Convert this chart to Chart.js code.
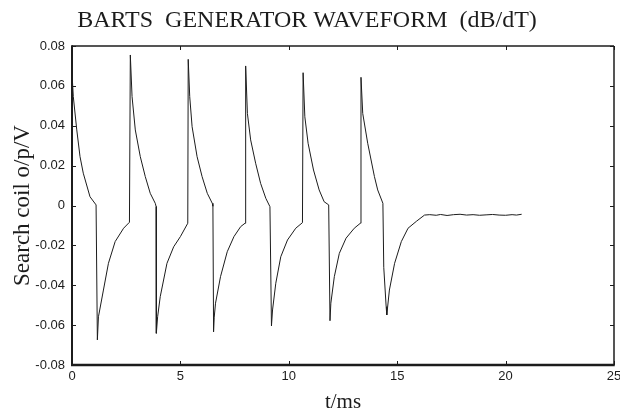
<!DOCTYPE html>
<html>
<head>
<meta charset="utf-8">
<script src="https://cdn.jsdelivr.net/npm/chart.js@4.4.1/dist/chart.umd.min.js"></script>
<style>
  html, body { margin: 0; padding: 0; background: #ffffff; }
  #wrap { width: 620px; height: 413px; }
</style>
</head>
<body>
<div id="wrap"><canvas id="c" width="620" height="413"></canvas></div>
<script>
// ---- data (time in ms, search-coil output in V) ----
const timeMs = [
  0.00, 0.06, 0.22, 0.37, 0.52, 0.83, 1.11, 1.17, 1.22, 1.45, 1.68, 1.99, 2.38, 2.65,
  2.69, 2.77, 2.92, 3.15, 3.38, 3.61, 3.84, 3.88, 3.89, 3.95, 4.07, 4.38, 4.69, 5.00, 5.34,
  5.36, 5.43, 5.54, 5.77, 6.00, 6.24, 6.47, 6.50, 6.53, 6.56, 6.62, 6.85, 7.16, 7.47, 7.78, 7.98,
  8.01, 8.09, 8.24, 8.47, 8.70, 8.94, 9.13, 9.20, 9.25, 9.40, 9.63, 9.94, 10.32, 10.63,
  10.66, 10.74, 10.89, 11.14, 11.40, 11.63, 11.84, 11.90, 11.94, 12.10, 12.33, 12.64, 13.02, 13.30,
  13.33, 13.41, 13.64, 13.95, 14.10, 14.34, 14.38, 14.49, 14.52, 14.64, 14.88, 15.19, 15.50, 15.90,
  16.26, 16.50, 16.80, 17.00, 17.30, 17.60, 17.90, 18.20, 18.50, 18.80, 19.10, 19.40, 19.70,
  20.00, 20.30, 20.50, 20.74
];
const coilVolts = [
  0.0663, 0.0546, 0.0379, 0.0245, 0.0162, 0.0044, 0.0003, -0.0674, -0.0558, -0.0424, -0.0290, -0.0181, -0.0114, -0.0084,
  0.0755, 0.0546, 0.0379, 0.0245, 0.0145, 0.0061, 0.0011, -0.0005, -0.0641, -0.0558, -0.0457, -0.0290, -0.0207, -0.0156, -0.0089,
  0.0733, 0.0546, 0.0395, 0.0245, 0.0145, 0.0061, 0.0011, -0.0004, -0.0634, -0.0560, -0.0490, -0.0357, -0.0232, -0.0156, -0.0106, -0.0089,
  0.0700, 0.0462, 0.0329, 0.0212, 0.0111, 0.0036, -0.0006, -0.0604, -0.0524, -0.0390, -0.0257, -0.0173, -0.0114, -0.0086,
  0.0666, 0.0445, 0.0312, 0.0178, 0.0078, 0.0019, 0.0003, -0.0578, -0.0490, -0.0357, -0.0240, -0.0164, -0.0114, -0.0089,
  0.0643, 0.0462, 0.0312, 0.0145, 0.0078, 0.0011, -0.0310, -0.0507, -0.0549, -0.0424, -0.0290, -0.0181, -0.0114, -0.0078,
  -0.0048, -0.0046, -0.0049, -0.0045, -0.0050, -0.0046, -0.0044, -0.0048, -0.0046, -0.0049, -0.0047, -0.0045, -0.0048,
  -0.0049, -0.0046, -0.0048, -0.0044
];
const xTickValues = [0, 5, 10, 15, 20, 25];
const yTickValues = [-0.08, -0.06, -0.04, -0.02, 0, 0.02, 0.04, 0.06, 0.08];

const chartTitle = 'BARTS  GENERATOR WAVEFORM  (dB/dT)';
const xTitle = 't/ms';
const yTitle = 'Search coil o/p/V';

const points = timeMs.map((t, i) => ({ x: t, y: coilVolts[i] }));

const INK = '#1c1c1c';
const tickFont = { family: "'Liberation Sans Narrow', 'Liberation Sans', Arial, sans-serif", size: 13 };
const serif = "'Liberation Serif', 'DejaVu Serif', serif";

// frame + inward tick marks
const framePlugin = {
  id: 'frame',
  afterDraw(chart) {
    const { ctx, chartArea: a, scales } = chart;
    ctx.save();
    ctx.strokeStyle = INK;
    const tl = 4;
    ctx.lineWidth = 1;
    ctx.beginPath();
    xTickValues.forEach(v => {
      const px = Math.round(scales.x.getPixelForValue(v)) + 0.5;
      ctx.moveTo(px, a.bottom); ctx.lineTo(px, a.bottom - tl);
      ctx.moveTo(px, a.top); ctx.lineTo(px, a.top + tl);
    });
    yTickValues.forEach(v => {
      const py = Math.round(scales.y.getPixelForValue(v)) + 0.5;
      ctx.moveTo(a.left, py); ctx.lineTo(a.left + tl, py);
      ctx.moveTo(a.right, py); ctx.lineTo(a.right - tl, py);
    });
    ctx.stroke();
    // box edges with differing weights, like the scanned plot
    ctx.lineWidth = 1.6;
    ctx.beginPath();
    ctx.moveTo(a.left, a.top); ctx.lineTo(a.right, a.top);
    ctx.stroke();
    ctx.lineWidth = 1.5;
    ctx.beginPath();
    ctx.moveTo(a.right, a.top); ctx.lineTo(a.right, a.bottom);
    ctx.stroke();
    ctx.lineWidth = 2;
    ctx.beginPath();
    ctx.moveTo(a.left, a.top - 0.8); ctx.lineTo(a.left, a.bottom);
    ctx.stroke();
    ctx.lineWidth = 2.6;
    ctx.beginPath();
    ctx.moveTo(a.left - 1, a.bottom); ctx.lineTo(a.right + 0.75, a.bottom);
    ctx.stroke();
    ctx.restore();
  }
};

new Chart(document.getElementById('c'), {
  type: 'line',
  data: {
    datasets: [{
      data: points,
      borderColor: INK,
      borderWidth: 1,
      pointRadius: 0,
      tension: 0,
      fill: false
    }]
  },
  options: {
    responsive: false,
    animation: false,
    layout: { padding: { left: 0, right: 6, top: 0, bottom: 0 } },
    plugins: {
      legend: { display: false },
      tooltip: { enabled: false },
      title: {
        display: true,
        text: chartTitle,
        color: INK,
        font: { family: serif, size: 24, weight: 'normal', lineHeight: 1.2 },
        padding: { top: 6, bottom: 11.2 }
      }
    },
    scales: {
      x: {
        type: 'linear',
        min: 0, max: 25,
        grid: { display: false, drawTicks: false },
        border: { display: false },
        ticks: { stepSize: 5, color: INK, font: tickFont, padding: 4, maxRotation: 0 },
        title: {
          display: true, text: xTitle, color: INK,
          font: { family: serif, size: 21, weight: 'normal', lineHeight: 1 },
          padding: { top: 0, bottom: 0 }
        },
        afterFit(s) { s.height = 48; s.paddingLeft = 0; s.paddingRight = 0; }
      },
      y: {
        type: 'linear',
        min: -0.08, max: 0.08,
        grid: { display: false, drawTicks: false },
        border: { display: false },
        ticks: {
          stepSize: 0.02, color: INK, font: tickFont, padding: 7,
          callback: v => { const r = Math.round(v * 100) / 100; return r === 0 ? '0' : r.toFixed(2); }
        },
        title: {
          display: true, text: yTitle, color: INK,
          font: { family: serif, size: 23, weight: 'normal', lineHeight: 1 },
          padding: { top: 11, bottom: 0 }
        },
        afterFit(s) { s.width = 72; s.paddingTop = 0; s.paddingBottom = 0; }
      }
    }
  },
  plugins: [framePlugin]
});
</script>
</body>
</html>
